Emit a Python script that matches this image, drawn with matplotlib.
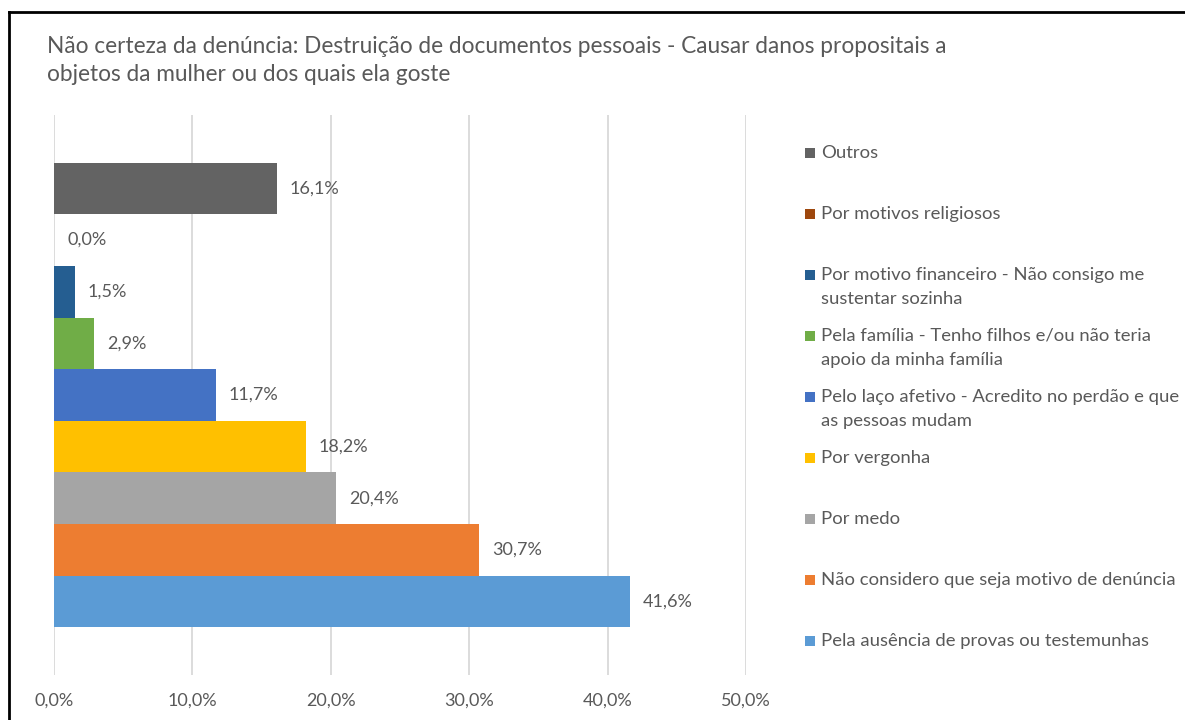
import matplotlib
matplotlib.use("Agg")
import matplotlib.pyplot as plt
from matplotlib.patches import Rectangle
from matplotlib.lines import Line2D

plt.rcParams['font.family'] = ['Lato', 'DejaVu Sans']

# Series, listed bottom to top as drawn
categories = [
    "Pela ausência de provas ou testemunhas",
    "Não considero que seja motivo de denúncia",
    "Por medo",
    "Por vergonha",
    "Pelo laço afetivo - Acredito no perdão e que\nas pessoas mudam",
    "Pela família - Tenho filhos e/ou não teria\napoio da minha família",
    "Por motivo financeiro - Não consigo me\nsustentar sozinha",
    "Por motivos religiosos",
    "Outros",
]
values = [41.6, 30.7, 20.4, 18.2, 11.7, 2.9, 1.5, 0.0, 16.1]
colors = ["#5B9BD5", "#ED7D31", "#A5A5A5", "#FFC000", "#4472C4",
          "#70AD47", "#255E91", "#9E480E", "#636363"]
xticks = [0, 10, 20, 30, 40, 50]
title = ("Não certeza da denúncia: Destruição de documentos pessoais - Causar danos propositais a\n"
         "objetos da mulher ou dos quais ela goste")

W, H = 1185, 720
fig = plt.figure(figsize=(W / 100, H / 100), dpi=100)
text_color = "#595959"

# plot area in pixel coordinates
x0, x1 = 54, 746
y_top, y_bot = 115, 675
ax = fig.add_axes([x0 / W, 1 - y_bot / H, (x1 - x0) / W, (y_bot - y_top) / H])

n = len(values)
bar_h = 1.0
pad = 0.92
positions = list(range(n))
ax.barh(positions, values, height=bar_h, color=colors, edgecolor='none', zorder=3)
ax.set_ylim(-0.5 - pad, n - 0.5 + pad)
ax.set_xlim(0, 50)

for p, v in zip(positions, values):
    ax.annotate(f"{v:.1f}%".replace('.', ','), xy=(v, p), xytext=(13, 0),
                textcoords='offset pixels',
                va='center', ha='left', fontsize=13, color=text_color)

ax.set_xticks(xticks)
ax.set_xticklabels([f"{t:.1f}%".replace('.', ',') for t in xticks],
                   fontsize=13, color=text_color)
ax.tick_params(axis='x', length=0, pad=13)
ax.set_yticks([])
ax.grid(axis='x', color='#D9D9D9', linewidth=1.3, zorder=0)
for s in ax.spines.values():
    s.set_visible(False)

fig.text(47 / W, 1 - 36 / H, title, ha='left', va='top', fontsize=16.3,
         color=text_color, linespacing=1.42)

# legend, top entry first
leg_x_box = 805
leg_x_text = 821
leg_y0 = 151
leg_step = 61.0
box = 10
for i, idx in enumerate(reversed(range(n))):
    y = leg_y0 + i * leg_step
    fig.patches.append(Rectangle((leg_x_box / W, 1 - (y + box / 2 + 2) / H),
                                 box / W, box / H, transform=fig.transFigure,
                                 facecolor=colors[idx], edgecolor='none'))
    fig.text(leg_x_text / W, 1 - (y - 6) / H, categories[idx], ha='left', va='top',
             fontsize=13.3, color=text_color, linespacing=1.6)

# outer frame (left and top edges)
fig.add_artist(Line2D([9 / W, 9 / W], [0, 1 - 12 / H], transform=fig.transFigure,
                      color='black', linewidth=2))
fig.add_artist(Line2D([9 / W, 1], [1 - 12 / H, 1 - 12 / H], transform=fig.transFigure,
                      color='black', linewidth=2))

fig.savefig("out.png", dpi=100, facecolor='white')
